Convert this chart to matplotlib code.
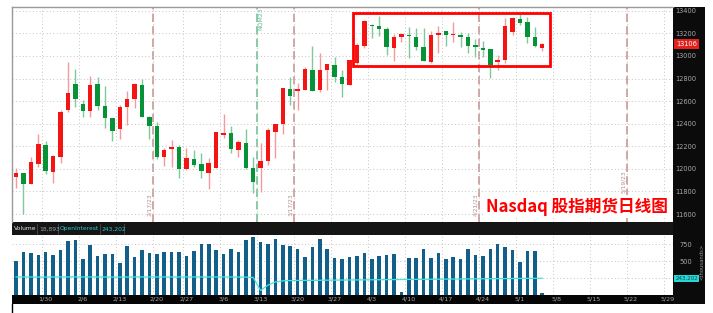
import numpy as np
import pandas as pd
import matplotlib
matplotlib.use("Agg")
import matplotlib.pyplot as plt
from matplotlib.patches import Rectangle

plt.rcParams['font.family'] = ['DejaVu Sans']

# ── data (NQ daily, prices in points) ─────────────────────────────────
start, end = "2023-01-24", "2023-06-02"
missing_days = ["2023-02-20"]          # no bar on Presidents Day

opens = [11926, 11966, 11869, 12043, 12212, 11975, 12108, 12521, 12751, 12574,
         12512, 12751, 12554, 12448, 12353, 12545, 12619, 12740, 12462, 12380,
         12103, 12173, 12191, 11996, 12088, 12043, 11966, 12011, 12300, 12318,
         12167, 12232, 12005, 12005, 12073, 12324, 12397, 12707, 12692, 12698,
         12875, 12698, 12875, 12919, 12816, 12742, 12934, 13088, 13276, 13267,
         13238, 13073, 13170, 13188, 13170, 13081, 12943, 13185, 13220, 13188,
         13182, 13165, 13096, 13074, 13058, 12943, 12964, 13214, 13324, 13296,
         13165, 13067]
highs = [12005, 11968, 12108, 12309, 12247, 12120, 12521, 12949, 12881, 12610,
         12822, 12811, 12734, 12450, 12565, 12687, 12757, 12796, 12465, 12418,
         12182, 12256, 12209, 12182, 12167, 12138, 12094, 12330, 12486, 12380,
         12256, 12350, 12103, 12226, 12359, 12400, 12716, 12811, 12763, 12904,
         13088, 13028, 12930, 12993, 12875, 12968, 13117, 13315, 13282, 13353,
         13253, 13194, 13196, 13253, 13244, 13244, 13223, 13265, 13223, 13303,
         13214, 13200, 13147, 13136, 13060, 13008, 13340, 13347, 13371, 13342,
         13253, 13117]
lows = [11834, 11598, 11866, 12019, 11955, 11872, 12055, 12506, 12550, 12462,
        12462, 12521, 12359, 12247, 12262, 12388, 12536, 12462, 12262, 12085,
        12026, 12019, 11919, 11994, 12019, 11922, 11825, 12008, 12276, 12138,
        12103, 12002, 11789, 11798, 12034, 12094, 12309, 12566, 12521, 12695,
        12690, 12683, 12698, 12772, 12634, 12740, 12930, 13067, 13161, 13176,
        13008, 12957, 13126, 12979, 13052, 12952, 12934, 13023, 13088, 13126,
        13081, 13023, 12988, 12990, 12802, 12871, 12940, 13185, 13273, 13114,
        13081, 13046]
closes = [11961, 11866, 12058, 12220, 11984, 12117, 12506, 12669, 12619, 12512,
          12742, 12559, 12448, 12338, 12545, 12619, 12751, 12462, 12382, 12108,
          12167, 12194, 11996, 12096, 12034, 11981, 12050, 12327, 12315, 12173,
          12235, 12005, 11887, 12073, 12344, 12397, 12713, 12645, 12707, 12881,
          12692, 12875, 12926, 12816, 12751, 12964, 13096, 13312, 13265, 13235,
          13076, 13170, 13194, 13176, 13081, 12955, 13185, 13205, 13185, 13194,
          13170, 13090, 13076, 13052, 12919, 12964, 13265, 13333, 13294, 13170,
          13090, 13106]
# volume and open interest, thousands of contracts
volume = [506, 630, 615, 585, 630, 585, 665, 805, 820, 531,
          735, 575, 605, 600, 470, 720, 560, 670, 625, 610,
          635, 635, 630, 575, 650, 755, 750, 670, 610, 685,
          635, 815, 865, 785, 755, 835, 740, 730, 685, 565,
          710, 825, 680, 550, 531, 558, 570, 615, 530, 575,
          585, 600, 35, 550, 540, 680, 540, 620, 530, 565,
          525, 675, 595, 575, 680, 750, 715, 665, 480, 650,
          645, 19]
open_interest = [262, 262, 262, 261, 261, 262, 262, 262, 262, 262,
                 262, 262, 262, 261, 261, 261, 262, 262, 262, 262,
                 262, 262, 262, 262, 262, 262, 262, 262, 262, 262,
                 261, 260, 255, 60, 140, 188, 204, 208, 210, 211,
                 212, 213, 214, 215, 216, 217, 218, 219, 220, 221,
                 222, 223, 224, 225, 226, 227, 228, 229, 230, 231,
                 232, 233, 234, 235, 236, 237, 238, 239, 240, 241,
                 242, 243]

last_price = 13106
last_volume = "18,893"
last_oi = "243,202"
price_ticks = [11600, 11800, 12000, 12200, 12400, 12600, 12800, 13000, 13200, 13400]
vol_ticks = [250, 500, 750]
vol_tick_labels = ["", "500", "750"]
expirations = [("2023-02-17", "2/17/23"), ("2023-03-17", "3/17/23"),
               ("2023-04-21", "4/21/23"), ("2023-05-19", "5/19/23")]
roll_day, roll_label = "2023-03-13", "NQM23"
title = "Nasdaq 股指期货日线图"

# ── axis of bar slots (future weekdays included) ─────────────────────
days = pd.bdate_range(start, end).drop(pd.to_datetime(missing_days))
slot = {d: i for i, d in enumerate(days)}
n = len(closes)
x = np.arange(n)
o, h, l, c = map(np.asarray, (opens, highs, lows, closes))
up = c >= o

# week starts: first slot of each week, labelled by its Monday
week = days.to_period("W")
first = [i for i in range(1, len(days)) if week[i] != week[i - 1]]
mondays = [days[i] - pd.Timedelta(days=days[i].dayofweek) for i in first]
wk_lab = [f"{m.month}/{m.day}" for m in mondays]

W, H = 713, 313
fig = plt.figure(figsize=(W / 100, H / 100), dpi=100)
fig.patch.set_facecolor("white")

def box(x0, y0, x1, y1, **kw):
    fig.patches.append(Rectangle((x0 / W, 1 - y1 / H), (x1 - x0) / W, (y1 - y0) / H,
                                 transform=fig.transFigure, **kw))

# dark frames: right scale strip, header bar, date bar
box(673, 7, 705, 304, facecolor="#0b0b0b", edgecolor="none", zorder=-1)
box(12, 222, 673, 235, facecolor="#151515", edgecolor="none", zorder=-1)
box(12, 294.5, 673, 304, facecolor="#050505", edgecolor="none", zorder=-1)

XL = (-0.55, 88.66)
GRID = dict(color="#c4c4c4", lw=0.7, ls=(0, (1, 2.5)))

# ── price panel ──────────────────────────────────────────────────────
ax = fig.add_axes([12 / W, 1 - 222 / H, 661 / W, 215 / H])
ax.set_xlim(*XL)
ax.set_ylim(11530, 13433)
for s in ("right", "bottom"):
    ax.spines[s].set_visible(False)
for s in ("top", "left"):
    ax.spines[s].set_color("#9a9a9a")
    ax.spines[s].set_linewidth(1)
ax.set_xticks([])
ax.yaxis.tick_right()
ax.set_yticks(price_ticks)
ax.set_yticklabels([str(t) for t in price_ticks])
ax.tick_params(axis="y", length=0, pad=2, labelsize=4.8, labelcolor="#a8a8a8")
ax.grid(True, axis="y", **GRID)
for i in first:
    ax.axvline(i - 0.5, zorder=0, **GRID)

for d, lab in expirations:
    xe = slot[pd.Timestamp(d)] + 0.5
    ax.axvline(xe, color="#c99a9a", lw=1.2, ls=(0, (5, 2.5)), zorder=1)
    # the last label sits just above the title box
    yb = 11585 if d != expirations[-1][0] else 11790
    ax.text(xe - 0.15, yb, lab, rotation=90, ha="right", va="bottom",
            fontsize=4.2, color="#b98c8c", zorder=1)
xr = slot[pd.Timestamp(roll_day)] - 0.5
ax.axvline(xr, color="#74c49a", lw=1.2, ls=(0, (5, 2.5)), zorder=1)
ax.text(xr + 0.15, 13425, roll_label, rotation=90, ha="left", va="top",
        fontsize=4.4, color="#6cb890", zorder=1)

red, green = "#f41414", "#079237"
wick = np.where(up, "#f59a9a", "#7fc99a")
ax.vlines(x, l, h, colors=wick, lw=1.0, zorder=2)
body = np.maximum(np.abs(c - o), 10)
ax.bar(x, body, bottom=np.minimum(o, c), width=0.6,
       color=np.where(up, red, green), linewidth=0, zorder=3)

# highlighted consolidation box and last price tag
ax.add_patch(Rectangle((0.5155, 0.727), 0.2985, 0.2465, transform=ax.transAxes,
                       fill=False, edgecolor="#ff0000", lw=2, zorder=5))
ax.annotate(str(last_price), xy=(1, last_price), xycoords=("axes fraction", "data"),
            xytext=(2.2, 0), textcoords="offset points", ha="left", va="center",
            fontsize=4.8, color="white",
            bbox=dict(boxstyle="square,pad=0.25", fc="#e3201b", ec="none"))
ax.text(0.717, 0.072, title, transform=ax.transAxes, ha="left", va="center",
        family=["Noto Sans CJK SC", "DejaVu Sans"], weight="bold", fontsize=12,
        color="#ff0000", zorder=6,
        bbox=dict(boxstyle="square,pad=0.15", fc="white", ec="none"))

# ── header bar ───────────────────────────────────────────────────────
hy = 1 - 228.8 / H
items = [("Volume", 13.5, "#e6e6e6"), (last_volume, 39, "#9c9c9c"),
         ("OpenInterest", 60, "#28c8c8"), (last_oi, 101.5, "#28c8c8")]
for txt, px, col in items:
    fig.text(px / W, hy, txt, ha="left", va="center", fontsize=4.3, color=col)
for px in (36.5, 58, 99.5, 124):
    fig.add_artist(plt.Line2D([px / W, px / W], [1 - 233.5 / H, 1 - 224 / H],
                              transform=fig.transFigure, color="#4a4a4a", lw=0.6))

# ── volume panel ─────────────────────────────────────────────────────
av = fig.add_axes([12 / W, 1 - 294.5 / H, 661 / W, 59.5 / H])
av.set_xlim(*XL)
av.set_ylim(0, 889)
for s in av.spines.values():
    s.set_visible(False)
av.bar(x, volume, width=0.48, color="#12608a", linewidth=0, zorder=2)
av.plot(x, open_interest, color="#3fe3e3", lw=0.9, zorder=3)
av.yaxis.tick_right()
av.set_yticks(vol_ticks)
av.set_yticklabels(vol_tick_labels)
av.tick_params(axis="y", length=0, pad=5, labelsize=4.8, labelcolor="#a8a8a8")
av.grid(True, axis="y", **GRID)
for i in first:
    av.axvline(i - 0.5, zorder=0, **GRID)
av.set_xticks(first)
av.set_xticklabels(wk_lab)
av.tick_params(axis="x", length=0, pad=1.6, labelsize=4.6, labelcolor="#a8a8a8")
av.annotate(last_oi, xy=(1, open_interest[-1]), xycoords=("axes fraction", "data"),
            xytext=(1.6, 0), textcoords="offset points", ha="left", va="center",
            fontsize=4.0, color="#0b4b4b",
            bbox=dict(boxstyle="square,pad=0.15", fc="#29d6d6", ec="none"))
fig.text(702.5 / W, 1 - 262 / H, "<thousands>", rotation=90, ha="center", va="center",
         fontsize=3.8, color="#9a9a9a")

# screenshot frame line under the chart
fig.add_artist(plt.Line2D([12 / W, 12 / W], [0, 1 - 304 / H],
                          transform=fig.transFigure, color="black", lw=1))

fig.savefig("out.png", dpi=100, facecolor="white")
